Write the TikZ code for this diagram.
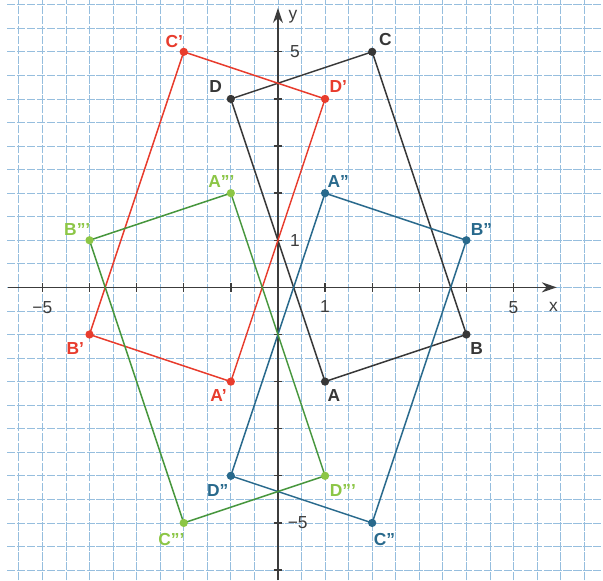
\documentclass[tikz,border=0pt]{standalone}
\usepackage{fontspec}
\setmainfont{Liberation Sans}
\usetikzlibrary{calc,arrows.meta}
\definecolor{gridc}{RGB}{150,190,222}
\definecolor{axc}{RGB}{60,60,60}
\definecolor{blk}{RGB}{55,55,55}
\definecolor{redc}{RGB}{232,60,45}
\definecolor{bluec}{RGB}{40,105,140}
\definecolor{greenc}{RGB}{70,150,60}
\definecolor{greenl}{RGB}{140,198,70}
\tikzset{
  gridline/.style={gridc, line width=0.5pt, dash pattern=on 5pt off 1pt},
  axis/.style={axc, line width=1pt, -{Stealth[length=9pt,width=6pt]}},
  tick/.style={axc, line width=0.8pt},
  ticklbl/.style={font=\fontsize{10.5}{12}\selectfont, text=axc, inner sep=0pt},
  pt/.style={circle, fill=#1, inner sep=0pt, minimum size=5pt},
  poly/.style={#1, line width=0.9pt},
  lbl/.style={font=\fontsize{10.5}{12}\selectfont\bfseries, text=#1, inner sep=0pt}
}
\begin{document}
\begin{tikzpicture}
\useasboundingbox (-5.9,-6.22) rectangle (6.9,6.1);
\fill[white] (-5.9,-6.22) rectangle (6.9,6.1);
% grid
\foreach \x in {-5.5,-5,...,6.5} \draw[gridline] (\x,-6.22) -- (\x,6.1);
\foreach \y in {-6,-5.5,...,6} \draw[gridline] (-5.75,\y) -- (6.9,\y);
% axes
\coordinate (xs) at (-5.73,0);
\coordinate (xe) at (5.92,0);
\coordinate (ys) at (0,-6.22);
\coordinate (ye) at (0,5.93);
\draw[axis] (xs) -- (xe);
\draw[axis] (ys) -- (ye);
\foreach \t in {-5,...,5} {
  \draw[tick] (\t,-0.09) -- (\t,0.09);
}
\foreach \t in {-6,...,5} {
  \draw[tick] (-0.09,\t) -- (0.09,\t);
}
\node[ticklbl] (tx) at (5.85,-0.42) {x};
\node[ticklbl] (ty) at (0.32,5.75) {y};
\node[ticklbl] (x5) at (5.0,-0.42) {5};
\node[ticklbl] (xm5) at (-5.0,-0.42) {−5};
\node[ticklbl] (x1) at (1.0,-0.4) {1};
\node[ticklbl] (y1) at (0.36,1.0) {1};
\node[ticklbl] (y5) at (0.36,5.0) {5};
\node[ticklbl] (ym5) at (0.42,-5.0) {−5};
% points
\coordinate (A) at (1,-2); \coordinate (B) at (4,-1); \coordinate (C) at (2,5); \coordinate (D) at (-1,4);
\coordinate (A1) at (-1,-2); \coordinate (B1) at (-4,-1); \coordinate (C1) at (-2,5); \coordinate (D1) at (1,4);
\coordinate (A2) at (1,2); \coordinate (B2) at (4,1); \coordinate (C2) at (2,-5); \coordinate (D2) at (-1,-4);
\coordinate (A3) at (-1,2); \coordinate (B3) at (-4,1); \coordinate (C3) at (-2,-5); \coordinate (D3) at (1,-4);
% polygons
\draw[poly=blk] (A) -- (B) -- (C) -- (D) -- cycle;
\draw[poly=redc] (A1) -- (B1) -- (C1) -- (D1) -- cycle;
\draw[poly=bluec] (A2) -- (B2) -- (C2) -- (D2) -- cycle;
\draw[poly=greenc] (A3) -- (B3) -- (C3) -- (D3) -- cycle;
% dots
\foreach \p in {A,B,C,D} \node[pt=blk] (d\p) at (\p) {};
\foreach \p in {A1,B1,C1,D1} \node[pt=redc] (d\p) at (\p) {};
\foreach \p in {A2,B2,C2,D2} \node[pt=bluec] (d\p) at (\p) {};
\foreach \p in {A3,B3,C3,D3} \node[pt=greenl] (d\p) at (\p) {};
% labels
\node[lbl=blk] (lA) at ($(A)+(0.19,-0.30)$) {A};
\node[lbl=blk] (lB) at ($(B)+(0.22,-0.30)$) {B};
\node[lbl=blk] (lC) at ($(C)+(0.28,0.26)$) {C};
\node[lbl=blk] (lD) at ($(D)+(-0.32,0.26)$) {D};
\node[lbl=redc] (lA1) at ($(A1)+(-0.26,-0.30)$) {A'};
\node[lbl=redc] (lB1) at ($(B1)+(-0.30,-0.30)$) {B'};
\node[lbl=redc] (lC1) at ($(C1)+(-0.20,0.22)$) {C'};
\node[lbl=redc] (lD1) at ($(D1)+(0.28,0.26)$) {D'};
\node[lbl=bluec] (lA2) at ($(A2)+(0.28,0.24)$) {A''};
\node[lbl=bluec] (lB2) at ($(B2)+(0.32,0.22)$) {B''};
\node[lbl=bluec] (lC2) at ($(C2)+(0.26,-0.36)$) {C''};
\node[lbl=bluec] (lD2) at ($(D2)+(-0.28,-0.32)$) {D''};
\node[lbl=greenl] (lA3) at ($(A3)+(-0.2,0.24)$) {A'''};
\node[lbl=greenl] (lB3) at ($(B3)+(-0.26,0.22)$) {B'''};
\node[lbl=greenl] (lC3) at ($(C3)+(-0.26,-0.36)$) {C'''};
\node[lbl=greenl] (lD3) at ($(D3)+(0.38,-0.32)$) {D'''};
\end{tikzpicture}
\end{document}
